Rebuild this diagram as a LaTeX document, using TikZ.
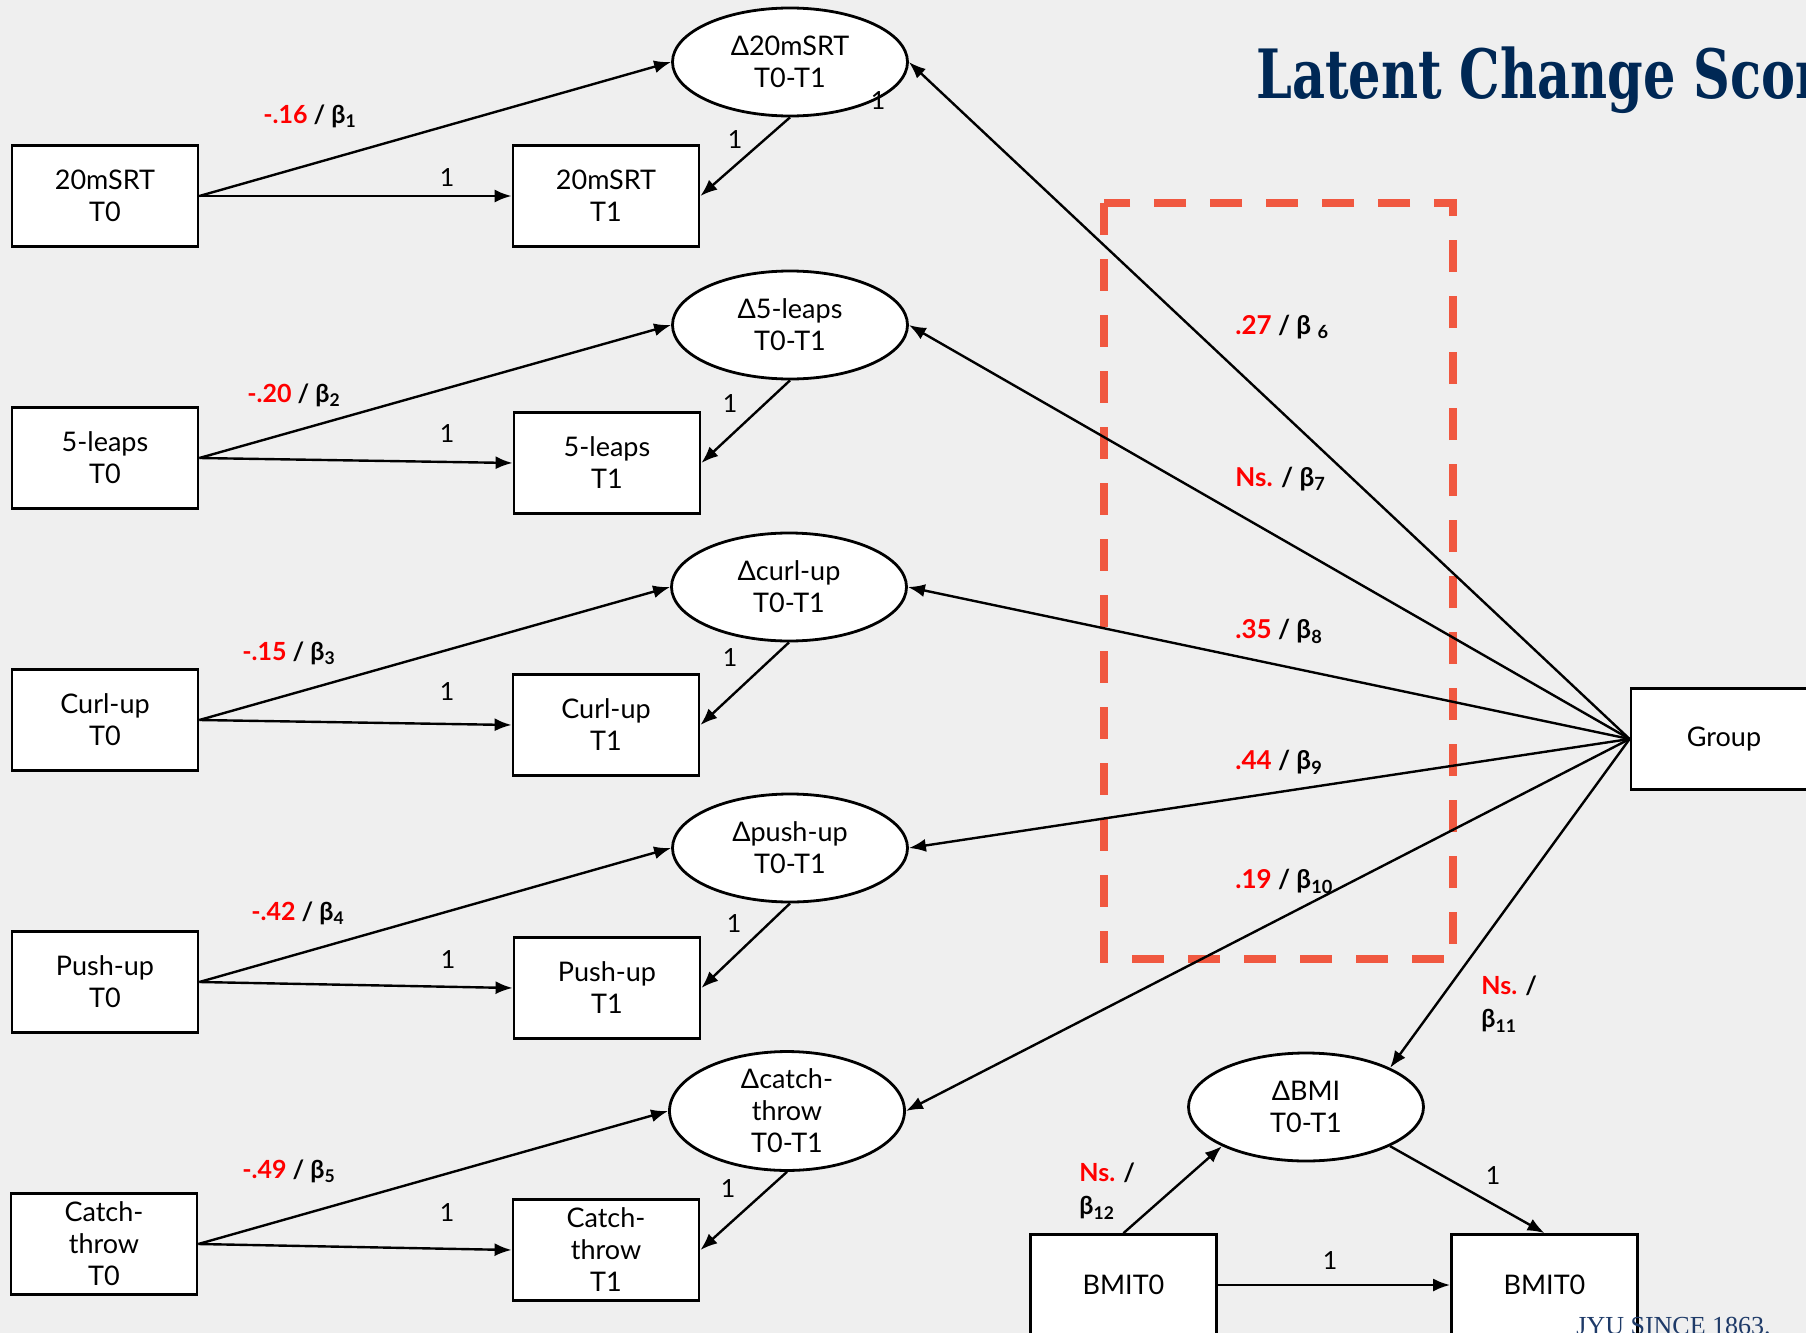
\documentclass[tikz,border=0pt]{standalone}
\usepackage{fontspec}
\usepackage{graphicx}
\setmainfont{Lato}
\newfontfamily\titlefont{DejaVu Serif}
\newfontfamily\jyufont{Liberation Serif}
\usetikzlibrary{arrows.meta,shapes.geometric}
\definecolor{bg}{RGB}{239,239,239}
\definecolor{dashred}{RGB}{240,88,64}
\definecolor{navy}{RGB}{0,40,85}
\definecolor{jyublue}{RGB}{30,58,104}
\definecolor{coefred}{RGB}{255,0,0}
\begin{document}
\begin{tikzpicture}[x=0.5pt,y=-0.5pt,
  box/.style={draw,fill=white,line width=1.4pt,minimum width=93pt,minimum height=50.5pt,inner sep=0pt,align=center,font=\fontsize{13.5}{16}\selectfont},
  lat/.style={draw,fill=white,ellipse,line width=1.4pt,minimum width=117.5pt,minimum height=54pt,inner sep=0pt,align=center,font=\fontsize{13.5}{16}\selectfont},
  arr/.style={line width=1.2pt,-{Latex[length=8.5pt,width=6.5pt]}},
  one/.style={inner sep=0pt,font=\fontsize{12.5}{15}\selectfont},
  coefL/.style={anchor=base west,inner sep=0pt,font=\bfseries\fontsize{12.5}{15}\selectfont},
  coefR/.style={anchor=base west,inner sep=0pt,font=\bfseries\fontsize{13}{15}\selectfont},
  coefM/.style={anchor=north west,inner sep=0pt,align=left,font=\bfseries\fontsize{12.5}{16.5}\selectfont},
]
\clip (0,0) rectangle (1806,1333);
\fill[bg] (0,0) rectangle (1806,1333);

% title
\node[anchor=base west,inner sep=0pt,text=navy] (title) at (1256,98)
  {\scalebox{0.75}[1]{\titlefont\bfseries\fontsize{34}{40}\selectfont Latent Change Scor}};

% highlight frame
\draw[dashred,line width=4pt,dash pattern=on 16pt off 12pt] (1104,203) -- (1104,959) -- (1453,959) -- (1453,203) -- cycle;

% T0 boxes
\node[box] (a0) at (105,196) {20mSRT\\T0};
\node[box] (b0) at (105,458) {5-leaps\\T0};
\node[box] (c0) at (105,720) {Curl-up\\T0};
\node[box] (d0) at (105,982) {Push-up\\T0};
\node[box] (e0) at (104,1244) {Catch-\\throw\\T0};
% T1 boxes
\node[box] (a1) at (606,196) {20mSRT\\T1};
\node[box] (b1) at (607,463) {5-leaps\\T1};
\node[box] (c1) at (606,725) {Curl-up\\T1};
\node[box] (d1) at (607,988) {Push-up\\T1};
\node[box] (e1) at (606,1250) {Catch-\\throw\\T1};
% latent changes
\node[lat] (da) at (790,62) {Δ20mSRT\\T0-T1};
\node[lat] (db) at (790,325) {Δ5-leaps\\T0-T1};
\node[lat] (dc) at (789,587) {Δcurl-up\\T0-T1};
\node[lat] (dd) at (790,848) {Δpush-up\\T0-T1};
\node[lat] (de) at (787,1111) {Δcatch-\\throw\\T0-T1};
\node[lat] (dbmi) at (1306,1107) {ΔBMI\\T0-T1};
% group and BMI
\node[box] (group) at (1724,739) {Group};
\node[box] (bmi0) at (1123.5,1285) {BMIT0};
\node[box] (bmi1) at (1544.5,1285) {BMIT0};

% left block arrows
\foreach \s in {a,b,c,d,e}{
  \draw[arr] (\s0.east) -- (d\s.west);
  \draw[arr] (\s0.east) -- (\s1.west);
  \draw[arr] (d\s.south) -- (\s1.east);
}
% group arrows
\foreach \s in {a,b,c,d,e}{
  \draw[arr] (group.west) -- (d\s.east);
}
\draw[arr] (group.west) -- (dbmi.north east);
% BMI arrows
\draw[arr] (bmi0.north) -- (dbmi.south west);
\draw[arr] (dbmi.south east) -- (bmi1.north);
\draw[arr] (bmi0.east) -- (bmi1.west);

% "1" labels
\node[one] (o1) at (447,178) {1};
\node[one] (o2) at (447,434) {1};
\node[one] (o3) at (447,692) {1};
\node[one] (o4) at (448,960) {1};
\node[one] (o5) at (447,1213) {1};
\node[one] (p1) at (735,140) {1};
\node[one] (p2) at (730,404) {1};
\node[one] (p3) at (730,658) {1};
\node[one] (p4) at (734,924) {1};
\node[one] (p5) at (728,1189) {1};
\node[one] (q1) at (878,101) {1};
\node[one] (q2) at (1493,1176) {1};
\node[one] (q3) at (1330,1261) {1};

% coefficients, left
\node[coefL] (k1) at (263,123) {\textcolor{coefred}{-.16} / β\textsubscript{1}};
\node[coefL] (k2) at (247,402) {\textcolor{coefred}{-.20} / β\textsubscript{2}};
\node[coefL] (k3) at (242,660) {\textcolor{coefred}{-.15} / β\textsubscript{3}};
\node[coefL] (k4) at (251,920) {\textcolor{coefred}{-.42} / β\textsubscript{4}};
\node[coefL] (k5) at (242,1178) {\textcolor{coefred}{-.49} / β\textsubscript{5}};
% coefficients, right
\node[coefR] (k6) at (1235,334) {\textcolor{coefred}{.27} / β \textsubscript{6}};
\node[coefR] (k7) at (1235,486) {\textcolor{coefred}{Ns.} / β\textsubscript{7}};
\node[coefR] (k8) at (1235,638) {\textcolor{coefred}{.35} / β\textsubscript{8}};
\node[coefR] (k9) at (1235,769) {\textcolor{coefred}{.44} / β\textsubscript{9}};
\node[coefR] (k10) at (1235,888) {\textcolor{coefred}{.19} / β\textsubscript{10}};
\node[coefM] (k11) at (1481,976) {\textcolor{coefred}{Ns.} /\\β\textsubscript{11}};
\node[coefM] (k12) at (1079,1163) {\textcolor{coefred}{Ns.} /\\β\textsubscript{12}};

% footer, drawn on top
\node[anchor=north west,inner sep=0pt,text=jyublue,font=\jyufont\fontsize{13}{15}\selectfont] (jyu) at (1576,1317) {JYU SINCE 1863.};
\end{tikzpicture}
\end{document}
